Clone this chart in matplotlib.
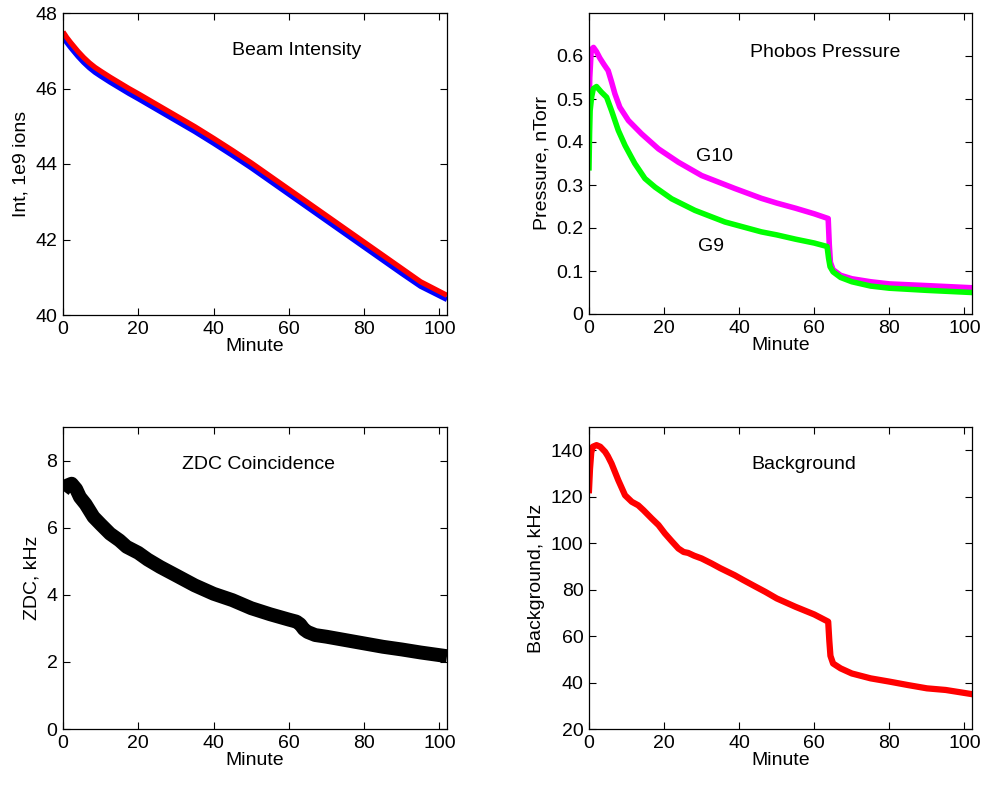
import matplotlib
matplotlib.use("Agg")
import matplotlib.pyplot as plt

plt.rcParams['font.family'] = ['Liberation Sans', 'DejaVu Sans']

# ---- Beam intensity ----
beam_t = [0, 1, 2, 3, 4, 5.5, 7, 8.5, 10, 12.5, 15, 17.5, 20, 25, 30, 35, 40, 45, 50, 55, 60, 65, 70, 75, 80, 85, 90, 95, 102]
beam_red = [47.5, 47.35, 47.22, 47.1, 46.98, 46.82, 46.68, 46.56, 46.46, 46.3, 46.15, 46.0, 45.86, 45.57, 45.28, 44.99, 44.68, 44.36, 44.03, 43.68, 43.33, 42.98, 42.63, 42.28, 41.93, 41.58, 41.23, 40.88, 40.52]
beam_blue = [47.37, 47.22, 47.09, 46.97, 46.85, 46.69, 46.55, 46.43, 46.33, 46.17, 46.02, 45.87, 45.73, 45.44, 45.15, 44.86, 44.55, 44.23, 43.9, 43.55, 43.2, 42.85, 42.5, 42.15, 41.8, 41.45, 41.1, 40.76, 40.41]

# ---- Pressure ----
g10_t = [0, 0.2, 0.6, 1.2, 2.0, 2.9, 4.0, 5.1, 6.0, 6.9, 8.2, 10.5, 14, 18.5, 23.8, 30, 38.8, 45.9, 50, 55, 60, 63.7, 64.0, 64.3, 65, 67, 70, 75, 80, 90, 102]
g10_p = [0.47, 0.55, 0.615, 0.62, 0.61, 0.595, 0.58, 0.566, 0.54, 0.512, 0.481, 0.450, 0.419, 0.384, 0.353, 0.322, 0.292, 0.269, 0.258, 0.246, 0.233, 0.222, 0.16, 0.12, 0.103, 0.09, 0.082, 0.075, 0.07, 0.066, 0.061]
g9_t = [0, 0.15, 0.3, 0.7, 1.15, 2.0, 3.3, 4.7, 6.0, 7.8, 9.6, 12.2, 14.9, 17.6, 22, 28.2, 36.2, 45.9, 50, 55, 60, 63.4, 63.8, 64.2, 65, 67, 70, 75, 80, 90, 102]
g9_p = [0.34, 0.42, 0.473, 0.505, 0.524, 0.529, 0.516, 0.504, 0.473, 0.427, 0.392, 0.35, 0.315, 0.295, 0.268, 0.241, 0.214, 0.191, 0.184, 0.174, 0.165, 0.157, 0.13, 0.11, 0.098, 0.085, 0.075, 0.065, 0.06, 0.055, 0.05]

# ---- ZDC ----
zdc_t = [0, 1, 2.3, 3.5, 4.5, 6, 8.1, 10, 12.5, 15, 16.9, 20, 22.5, 25.8, 30, 35, 40, 45, 50, 55, 60, 62, 63, 64, 65, 67, 70, 75, 80, 85, 90, 95, 102]
zdc_v = [7.1, 7.25, 7.31, 7.15, 6.91, 6.7, 6.32, 6.1, 5.82, 5.62, 5.43, 5.25, 5.05, 4.83, 4.58, 4.28, 4.03, 3.84, 3.6, 3.42, 3.26, 3.2, 3.12, 2.97, 2.89, 2.8, 2.75, 2.65, 2.55, 2.45, 2.37, 2.28, 2.17]

# ---- Background ----
bg_t = [0, 0.27, 0.6, 1.0, 2.0, 3.0, 4.3, 5.0, 6.0, 7.8, 9.6, 11.4, 13.1, 14.5, 16.7, 18.5, 20.2, 22, 23.8, 25.2, 26.4, 28, 30, 32.6, 35, 38.8, 41, 44.1, 47, 50, 55, 60, 63.7, 64.0, 64.3, 65, 67, 70, 75, 80, 85, 90, 95, 102]
bg_v = [122.8, 132, 139, 141.5, 142.2, 141.5, 139.3, 137.5, 134.3, 127.1, 120.6, 117.8, 116.3, 114.2, 110.6, 107.8, 104.2, 100.9, 97.7, 96.2, 95.8, 94.6, 93.4, 91.3, 89.2, 86.2, 84.2, 81.5, 79, 76.2, 72.6, 69.3, 66.2, 58, 51.5, 48.2, 46.1, 43.9, 41.8, 40.4, 38.9, 37.5, 36.8, 35]

xticks = [0, 20, 40, 60, 80, 100]
FS = 14

fig = plt.figure(figsize=(9.85, 7.86), dpi=100)
W, H = 985, 786

def make_ax(l, t, r, b):
    return fig.add_axes([l / W, 1 - b / H, (r - l) / W, (b - t) / H])

def style(ax, ylim, yticks, ylabel, yfmt=None):
    ax.set_xlim(0, 102)
    ax.set_ylim(*ylim)
    ax.set_xticks(xticks)
    ax.set_yticks(yticks)
    if yfmt:
        ax.set_yticklabels([yfmt(v) for v in yticks])
    ax.tick_params(direction='in', top=True, right=True, length=5, width=0.8,
                   labelsize=FS, pad=4)
    ax.set_xlabel('Minute', fontsize=FS, labelpad=0)
    ax.set_ylabel(ylabel, fontsize=FS, labelpad=4)
    for s in ax.spines.values():
        s.set_linewidth(0.9)

ax1 = make_ax(63, 13, 447, 315)
ax1.plot(beam_t, beam_blue, color='#0000ff', lw=3.8, solid_capstyle='butt')
ax1.plot(beam_t, beam_red, color='#ff0000', lw=3.8, solid_capstyle='butt')
style(ax1, (40, 48), [40, 42, 44, 46, 48], 'Int, 1e9 ions')
ax1.text(62, 47.0, 'Beam Intensity', ha='center', va='center', fontsize=FS)

ax2 = make_ax(589, 13, 972, 314)
ax2.plot(g10_t, g10_p, color='#ff00ff', lw=4)
ax2.plot(g9_t, g9_p, color='#00ff00', lw=4)
style(ax2, (0, 0.7), [0, 0.1, 0.2, 0.3, 0.4, 0.5, 0.6], 'Pressure, nTorr',
      yfmt=lambda v: '0' if v == 0 else ('%.1f' % v))
ax2.text(63, 0.608, 'Phobos Pressure', ha='center', va='center', fontsize=FS)
ax2.text(33.5, 0.366, 'G10', ha='center', va='center', fontsize=FS)
ax2.text(32.4, 0.157, 'G9', ha='center', va='center', fontsize=FS)

ax3 = make_ax(63, 427, 447, 729)
ax3.plot(zdc_t, zdc_v, color='black', lw=10, solid_capstyle='butt')
style(ax3, (0, 9), [0, 2, 4, 6, 8], 'ZDC, kHz')
ax3.text(52, 7.87, 'ZDC Coincidence', ha='center', va='center', fontsize=FS)

ax4 = make_ax(589, 427, 972, 729)
ax4.plot(bg_t, bg_v, color='#ff0000', lw=4.5)
style(ax4, (20, 150), [20, 40, 60, 80, 100, 120, 140], 'Background, kHz')
ax4.text(57.2, 133.8, 'Background', ha='center', va='center', fontsize=FS)

fig.savefig('out.png', dpi=100)
